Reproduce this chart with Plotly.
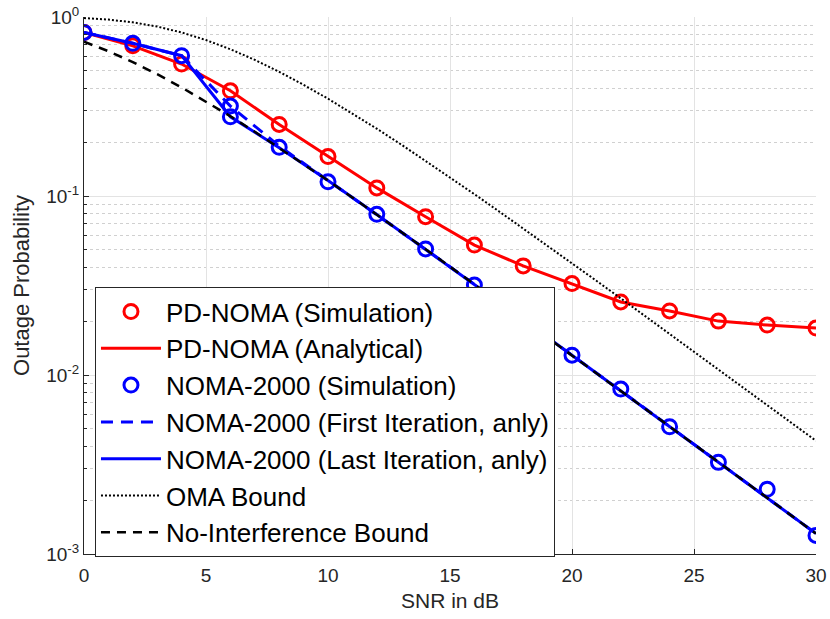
import plotly.graph_objects as go

# ---------------- data ----------------
snr_even = [0, 2, 4, 6, 8, 10, 12, 14, 16, 18, 20, 22, 24, 26, 28, 30]
snr_fine = list(range(0, 31))

pd_sim = [0.82, 0.69, 0.546, 0.387, 0.251, 0.166, 0.111, 0.0766, 0.0532, 0.0407,
          0.0324, 0.0256, 0.0228, 0.0200, 0.0190, 0.0183]
pd_ana = [0.82, 0.69, 0.546, 0.387, 0.251, 0.166, 0.111, 0.0766, 0.0532, 0.0407,
          0.0324, 0.0256, 0.0228, 0.0200, 0.0190, 0.0183]

noma_sim_x = [0, 2, 4, 6, 6, 8, 10, 12, 14, 16, 18, 20, 22, 24, 26, 28, 30]
noma_sim = [0.82, 0.713, 0.608, 0.318, 0.277, 0.187, 0.120, 0.079, 0.0506, 0.0318,
            0.0204, 0.0129, 0.00835, 0.00514, 0.00325, 0.0023, 0.00127]

noma_first = [0.82, 0.713, 0.608, 0.318, 0.19, 0.122, 0.0788, 0.0504, 0.0321, 0.0204,
              0.0129, 0.00817, 0.00516, 0.00326, 0.00206, 0.0013]
noma_last = [0.82, 0.713, 0.608, 0.277, 0.186, 0.122, 0.0788, 0.0504, 0.0321, 0.0204,
             0.0129, 0.00817, 0.00516, 0.00326, 0.00206, 0.0013]

oma_bound = [0.9864, 0.9671, 0.9337, 0.8841, 0.8195, 0.7433, 0.6604, 0.5760, 0.4941,
             0.4180, 0.3495, 0.2893, 0.2376, 0.1939, 0.1573, 0.1271, 0.1024, 0.0822,
             0.0659, 0.0527, 0.0421, 0.0336, 0.0268, 0.0213, 0.0170, 0.0135, 0.01074,
             0.00854, 0.00679, 0.0054, 0.00429]
no_int_bound = [0.7275, 0.644, 0.560, 0.479, 0.404, 0.337, 0.279, 0.2285, 0.186, 0.151,
                0.122, 0.0981, 0.0788, 0.0631, 0.0504, 0.0403, 0.0321, 0.0256, 0.0204,
                0.0162, 0.0129, 0.01027, 0.00817, 0.00649, 0.00516, 0.0041, 0.00326,
                0.00259, 0.00206, 0.00164, 0.0013]

y_tickvals = [0.001, 0.01, 0.1, 1]
y_ticktext = ["10<sup>-3</sup>", "10<sup>-2</sup>", "10<sup>-1</sup>", "10<sup>0</sup>"]
x_tickvals = [0, 5, 10, 15, 20, 25, 30]

# ---------------- figure ----------------
RED = "#ff0000"
BLUE = "#0000ff"
FONT = "Liberation Sans, Arial, Helvetica, sans-serif"

fig = go.Figure()
fig.add_trace(go.Scatter(x=snr_even, y=pd_sim, mode="markers", name="PD-NOMA (Simulation)",
                         marker=dict(symbol="circle-open", size=14, color=RED,
                                     line=dict(width=3, color=RED))))
fig.add_trace(go.Scatter(x=snr_even, y=pd_ana, mode="lines", name="PD-NOMA (Analytical)",
                         line=dict(color=RED, width=3)))
fig.add_trace(go.Scatter(x=noma_sim_x, y=noma_sim, mode="markers", name="NOMA-2000 (Simulation)",
                         marker=dict(symbol="circle-open", size=14, color=BLUE,
                                     line=dict(width=3, color=BLUE))))
fig.add_trace(go.Scatter(x=snr_even, y=noma_first, mode="lines",
                         name="NOMA-2000 (First Iteration, anly)",
                         line=dict(color=BLUE, width=3, dash="12px,8px")))
fig.add_trace(go.Scatter(x=snr_even, y=noma_last, mode="lines",
                         name="NOMA-2000 (Last Iteration, anly)",
                         line=dict(color=BLUE, width=3)))
fig.add_trace(go.Scatter(x=snr_fine, y=oma_bound, mode="lines", name="OMA Bound",
                         line=dict(color="black", width=2, dash="2px,2px")))
fig.add_trace(go.Scatter(x=snr_fine, y=no_int_bound, mode="lines", name="No-Interference Bound",
                         line=dict(color="black", width=2.5, dash="9px,7px")))

minor_vals = [m * 10.0 ** e for e in (-3, -2, -1) for m in range(2, 10)]

fig.update_layout(
    width=830, height=619,
    margin=dict(l=84, r=14, t=17, b=65, autoexpand=False),
    paper_bgcolor="white", plot_bgcolor="white",
    font=dict(family=FONT, color="#262626"),
    showlegend=True,
    legend=dict(x=0.015, y=0.497, xanchor="left", yanchor="top",
                bgcolor="white", bordercolor="#262626", borderwidth=1,
                font=dict(family=FONT, size=26, color="black"),
                itemwidth=60, tracegroupgap=0),
)
fig.update_xaxes(
    range=[0, 30], tickmode="array", tickvals=x_tickvals, automargin=False,
    showline=True, linecolor="#262626", linewidth=1,
    ticks="inside", ticklen=5, tickcolor="#262626", ticklabelstandoff=4,
    showgrid=True, gridcolor="#e3e3e3", gridwidth=1, zeroline=False,
    tickfont=dict(size=19, color="#262626"),
    title=dict(text="SNR in dB", font=dict(size=21, color="#262626"), standoff=8),
)
fig.update_yaxes(
    type="log", range=[-3, 0], tickmode="array", tickvals=y_tickvals, ticktext=y_ticktext,
    automargin=False,
    showline=True, linecolor="#262626", linewidth=1,
    ticks="inside", ticklen=5, tickcolor="#262626",
    showgrid=True, gridcolor="#e3e3e3", gridwidth=1, zeroline=False,
    tickfont=dict(size=19, color="#262626"),
    minor=dict(tickmode="array", tickvals=minor_vals, ticks="inside", ticklen=3,
               tickcolor="#262626", showgrid=True, gridcolor="#d0d0d0",
               griddash="dot", gridwidth=1),
    title=dict(text="Outage Probability", font=dict(size=22, color="#262626"), standoff=10),
)

fig.write_html("out.html")
